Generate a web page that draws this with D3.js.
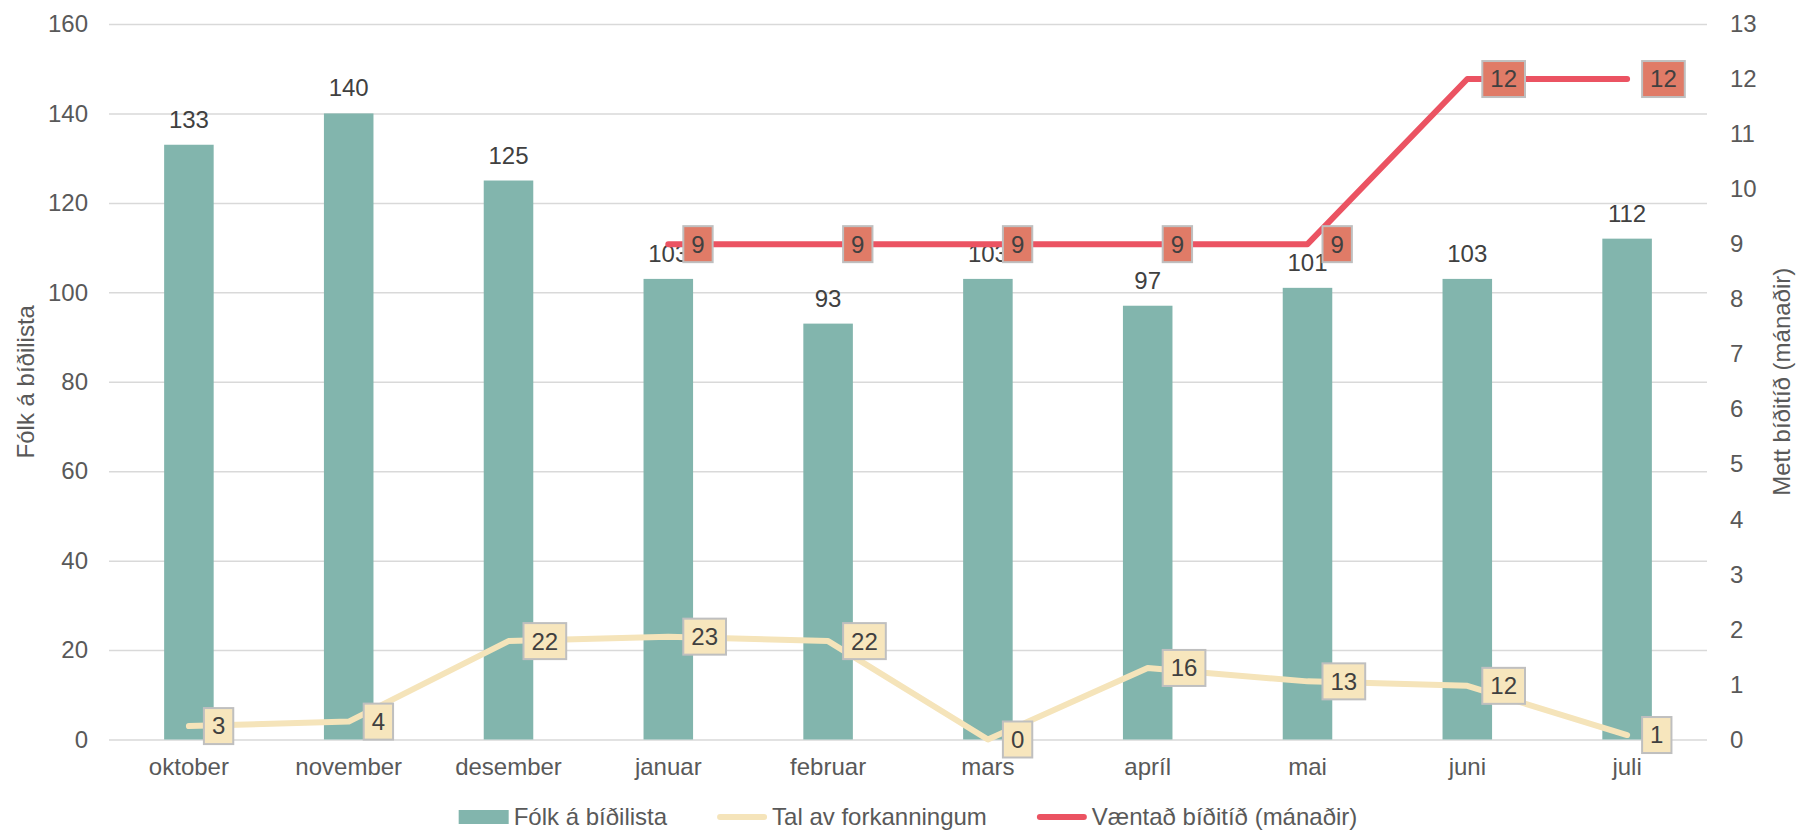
<!DOCTYPE html>
<html>
<head>
<meta charset="utf-8">
<script src="https://cdn.jsdelivr.net/npm/d3@7"></script>
<style>
  html, body { margin: 0; padding: 0; background: #fff; }
  svg { display: block; font-family: "Liberation Sans", Arial, sans-serif; }
</style>
</head>
<body>
<svg id="chart" width="1796" height="832"></svg>
<script>
const categories = ["oktober","november","desember","januar","februar","mars","apríl","mai","juni","juli"];
const folkValues = [133,140,125,103,93,103,97,101,103,112];
const talValues = [3,4,22,23,22,0,16,13,12,1];
const vaentadValues = [null,null,null,9,9,9,9,9,12,12];
const leftTicks = [0,20,40,60,80,100,120,140,160];
const rightTicks = [0,1,2,3,4,5,6,7,8,9,10,11,12,13];
const seriesNames = ["Fólk á bíðilista","Tal av forkanningum","Væntað bíðitíð (mánaðir)"];
const leftTitle = "Fólk á bíðilista";
const rightTitle = "Mett bíðitíð (mánaðir)";

const W = 1796, H = 832;
const plot = {left: 109, right: 1707, top: 24, bottom: 739.5};
const fontSize = 24;
const textColor = "#595959";
const labelColor = "#404040";
const barColor = "#82B5AD";
const talColor = "#F5E4BA";
const redColor = "#EB5362";
const redBox = "#E07B67";
const yellowBox = "#F7E6BD";
const gridColor = "#D9D9D9";

const svg = d3.select("#chart");

const x = d3.scaleBand().domain(categories).range([plot.left, plot.right])
  .paddingInner(0.69).paddingOuter(0.345);
const yL = d3.scaleLinear().domain([0,160]).range([plot.bottom, plot.top]);
const yR = d3.scaleLinear().domain([0,13]).range([plot.bottom, plot.top]);
const cx = c => x(c) + x.bandwidth()/2;

// gridlines via axis
const grid = svg.append("g").attr("transform", `translate(${plot.left},0)`)
  .call(d3.axisLeft(yL).tickValues(leftTicks).tickSize(-(plot.right-plot.left)).tickFormat(""));
grid.select(".domain").remove();
grid.selectAll("line").attr("stroke", gridColor).attr("stroke-width", 1.5);

// left axis labels
const la = svg.append("g").attr("transform", `translate(${plot.left - 21},0)`)
  .call(d3.axisLeft(yL).tickValues(leftTicks).tickSize(0).tickPadding(0));
la.select(".domain").remove();
la.selectAll("text").attr("font-size", fontSize).attr("fill", textColor)
  .attr("font-family", "Liberation Sans, Arial, sans-serif");

// right axis labels
const ra = svg.append("g").attr("transform", `translate(${plot.right + 23},0)`)
  .call(d3.axisRight(yR).tickValues(rightTicks).tickSize(0).tickPadding(0));
ra.select(".domain").remove();
ra.selectAll("text").attr("font-size", fontSize).attr("fill", textColor)
  .attr("font-family", "Liberation Sans, Arial, sans-serif");

// x axis labels
const xa = svg.append("g").attr("transform", `translate(0,${plot.bottom + 18})`)
  .call(d3.axisBottom(x).tickSize(0).tickPadding(0));
xa.select(".domain").remove();
xa.selectAll("text").attr("font-size", fontSize).attr("fill", textColor)
  .attr("font-family", "Liberation Sans, Arial, sans-serif");

// axis titles
svg.append("text").attr("transform", `translate(34,${(plot.top+plot.bottom)/2}) rotate(-90)`)
  .attr("text-anchor","middle").attr("font-size", fontSize).attr("fill", textColor).text(leftTitle);
svg.append("text").attr("transform", `translate(1790,${(plot.top+plot.bottom)/2}) rotate(-90)`)
  .attr("text-anchor","middle").attr("font-size", fontSize).attr("fill", textColor).text(rightTitle);

// bars
svg.append("g").selectAll("rect").data(categories).join("rect")
  .attr("x", c => x(c)).attr("width", x.bandwidth())
  .attr("y", (c,i) => yL(folkValues[i])).attr("height", (c,i) => plot.bottom - yL(folkValues[i]))
  .attr("fill", barColor);

// bar labels
svg.append("g").selectAll("text").data(categories).join("text")
  .attr("x", c => cx(c)).attr("y", (c,i) => yL(folkValues[i]) - 17)
  .attr("text-anchor","middle").attr("font-size", fontSize).attr("fill", labelColor)
  .text((c,i) => folkValues[i]);

// tal line (left axis)
const talData = categories.map((c,i) => ({c, v: talValues[i]}));
svg.append("path").datum(talData)
  .attr("d", d3.line().x(d => cx(d.c)).y(d => yL(d.v)))
  .attr("fill","none").attr("stroke", talColor).attr("stroke-width", 6)
  .attr("stroke-linecap","round").attr("stroke-linejoin","round");

// red line (right axis)
const redData = categories.map((c,i) => ({c, v: vaentadValues[i]})).filter(d => d.v !== null);
svg.append("path").datum(redData)
  .attr("d", d3.line().x(d => cx(d.c)).y(d => yR(d.v)))
  .attr("fill","none").attr("stroke", redColor).attr("stroke-width", 6)
  .attr("stroke-linecap","round").attr("stroke-linejoin","round");

function boxLabels(data, yScale, fill) {
  const g = svg.append("g");
  data.forEach(d => {
    const px = cx(d.c), py = yScale(d.v);
    const t = g.append("text").attr("font-size", fontSize).attr("fill", labelColor)
      .attr("text-anchor","middle").attr("dy","0.35em").text(d.v);
    const tw = t.node().getComputedTextLength();
    const bw = tw + 16, bh = 36;
    const bx = px + 15;
    g.insert("rect", () => t.node())
      .attr("x", bx).attr("y", py - bh/2).attr("width", bw).attr("height", bh)
      .attr("fill", fill).attr("stroke", "#BFBFBF").attr("stroke-width", 2);
    t.attr("x", bx + bw/2).attr("y", py);
  });
}
boxLabels(talData, yL, yellowBox);
boxLabels(redData, yR, redBox);

// legend
const legend = svg.append("g");
const legY = 817;
let cur = 0;
seriesNames.forEach((name, i) => {
  const g = legend.append("g");
  if (i === 0) {
    g.append("rect").attr("x", 0).attr("y", legY - 7).attr("width", 50).attr("height", 14).attr("fill", barColor);
  } else {
    g.append("line").attr("x1", 3).attr("x2", 47).attr("y1", legY).attr("y2", legY)
      .attr("stroke", i === 1 ? talColor : redColor).attr("stroke-width", 6).attr("stroke-linecap","round");
  }
  const t = g.append("text").attr("x", 55).attr("y", legY).attr("dy","0.35em")
    .attr("font-size", fontSize).attr("fill", textColor).text(name);
  const w = 55 + t.node().getComputedTextLength();
  g.attr("transform", `translate(${cur},0)`);
  cur += w + 50;
});
const totalW = cur - 50;
legend.attr("transform", `translate(${(plot.left+plot.right)/2 - totalW/2},0)`);
</script>
</body>
</html>
